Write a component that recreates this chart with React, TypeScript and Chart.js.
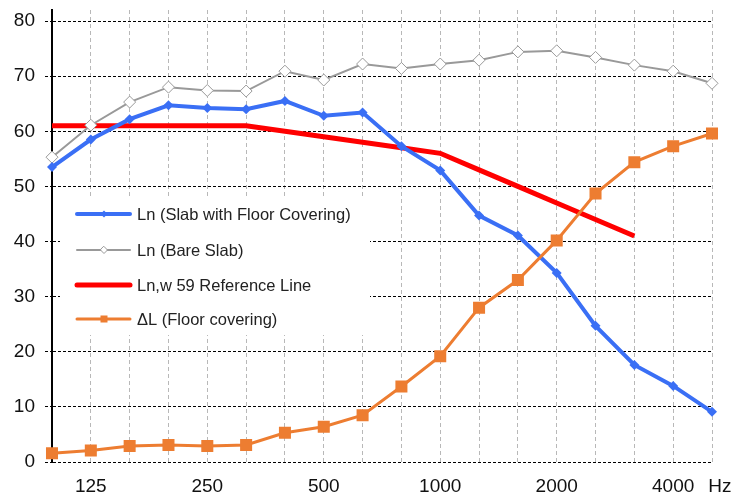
import React, { useEffect, useRef } from 'react';
import { Chart, registerables } from 'chart.js';

Chart.register(...registerables);

const frequencies = ['100', '125', '160', '200', '250', '315', '400', '500', '630', '800', '1000', '1250', '1600', '2000', '2500', '3150', '4000', '5000'];
const tickLabels = ['', '125', '', '', '250', '', '', '500', '', '', '1000', '', '', '2000', '', '', '4000', '   Hz'];
const lnFloorCovering = [53.5, 58.5, 62.2, 64.7, 64.2, 64.0, 65.5, 62.8, 63.4, 57.3, 52.9, 44.7, 41.1, 34.3, 24.7, 17.6, 13.8, 9.1];
const lnBareSlab = [55.3, 61.1, 65.3, 68.0, 67.4, 67.3, 70.9, 69.3, 72.2, 71.4, 72.2, 72.9, 74.4, 74.6, 73.4, 72.0, 70.9, 68.7];
const lnwReference: (number | null)[] = [61, 61, 61, 61, 61, 61, 60, 59, 58, 57, 56, 53, 50, 47, 44, 41, null, null];
const deltaL = [1.6, 2.1, 2.9, 3.1, 2.9, 3.1, 5.3, 6.4, 8.5, 13.7, 19.2, 28.0, 33.0, 40.2, 48.7, 54.4, 57.3, 59.6];
const yTicks = [0, 10, 20, 30, 40, 50, 60, 70, 80];

const seriesNames = ['Ln (Slab with Floor Covering)', 'Ln (Bare Slab)', 'Ln,w 59 Reference Line', '\u0394L (Floor covering)'];

const BLUE = '#3a6ff5';
const GRAY = '#999999';
const RED = '#ff0000';
const ORANGE = '#ed7d31';

const legendPlugin = {
  id: 'boxLegend',
  afterDatasetsDraw(chart: any) {
    const ctx = chart.ctx as CanvasRenderingContext2D;
    ctx.save();
    ctx.fillStyle = '#ffffff';
    ctx.fillRect(60, 196, 310, 139);
    const rows = [
      { y: 214, color: BLUE, width: 4, marker: 'diamondFill' },
      { y: 250, color: GRAY, width: 2, marker: 'diamondOpen' },
      { y: 285, color: RED, width: 5, marker: 'none' },
      { y: 319, color: ORANGE, width: 3, marker: 'square' },
    ];
    rows.forEach((r, i) => {
      ctx.beginPath();
      ctx.strokeStyle = r.color;
      ctx.lineWidth = r.width;
      ctx.lineCap = 'round';
      ctx.moveTo(77, r.y);
      ctx.lineTo(130, r.y);
      ctx.stroke();
      const cx = 104;
      if (r.marker === 'diamondFill') {
        ctx.beginPath();
        ctx.fillStyle = r.color;
        ctx.moveTo(cx, r.y - 3.5);
        ctx.lineTo(cx + 3.5, r.y);
        ctx.lineTo(cx, r.y + 3.5);
        ctx.lineTo(cx - 3.5, r.y);
        ctx.closePath();
        ctx.fill();
      } else if (r.marker === 'diamondOpen') {
        ctx.beginPath();
        ctx.fillStyle = '#ffffff';
        ctx.strokeStyle = GRAY;
        ctx.lineWidth = 1;
        ctx.moveTo(cx, r.y - 3.5);
        ctx.lineTo(cx + 3.5, r.y);
        ctx.lineTo(cx, r.y + 3.5);
        ctx.lineTo(cx - 3.5, r.y);
        ctx.closePath();
        ctx.fill();
        ctx.stroke();
      } else if (r.marker === 'square') {
        ctx.fillStyle = r.color;
        ctx.fillRect(cx - 3.5, r.y - 3.5, 7, 7);
      }
      ctx.fillStyle = '#222222';
      ctx.font = '16.5px "Liberation Sans", Arial, sans-serif';
      ctx.textAlign = 'left';
      ctx.textBaseline = 'middle';
      ctx.fillText(seriesNames[i], 137, r.y + 1);
    });
    ctx.restore();
  },
};

export default function App() {
  const canvasRef = useRef<HTMLCanvasElement | null>(null);

  useEffect(() => {
    document.body.style.margin = '0';
    const canvas = canvasRef.current;
    if (!canvas) return;
    const chart = new Chart(canvas, {
      type: 'line',
      data: {
        labels: frequencies,
        datasets: [
          {
            label: seriesNames[3],
            data: deltaL,
            borderColor: ORANGE,
            backgroundColor: ORANGE,
            borderWidth: 3,
            pointStyle: 'rect',
            pointRadius: 8.5,
            pointBorderWidth: 0,
            pointBackgroundColor: ORANGE,
            tension: 0,
            order: 1,
          },
          {
            label: seriesNames[0],
            data: lnFloorCovering,
            borderColor: BLUE,
            backgroundColor: BLUE,
            borderWidth: 4,
            pointStyle: 'rectRot',
            pointRadius: 5,
            pointBorderWidth: 0,
            pointBackgroundColor: BLUE,
            tension: 0,
            order: 2,
          },
          {
            label: seriesNames[1],
            data: lnBareSlab,
            borderColor: GRAY,
            backgroundColor: '#ffffff',
            borderWidth: 2,
            pointStyle: 'rectRot',
            pointRadius: 6,
            pointBorderWidth: 1,
            pointBorderColor: GRAY,
            pointBackgroundColor: '#ffffff',
            tension: 0,
            order: 3,
          },
          {
            label: seriesNames[2],
            data: lnwReference,
            borderColor: RED,
            backgroundColor: RED,
            borderWidth: 5,
            pointRadius: 0,
            tension: 0,
            spanGaps: false,
            order: 4,
          },
        ],
      },
      options: {
        animation: false,
        responsive: false,
        maintainAspectRatio: false,
        layout: { padding: { top: 0, right: 30, left: 0, bottom: 0 } },
        plugins: {
          legend: { display: false },
          tooltip: { enabled: false },
        },
        scales: {
          x: {
            type: 'category',
            offset: false,
            grid: {
              display: true,
              color: '#b8b8b8',
              lineWidth: 1,
              drawTicks: false,
            },
            border: { display: false, dash: [4, 3] },
            ticks: {
              autoSkip: false,
              maxRotation: 0,
              minRotation: 0,
              padding: 13,
              color: '#111111',
              font: { size: 19, family: '"Liberation Sans", Arial, sans-serif' },
              callback: (_v: any, i: number) => tickLabels[i],
            },
            afterFit: (scale: any) => {
              scale.height = 33;
              scale.paddingLeft = 0;
              scale.paddingRight = 0;
            },
          },
          y: {
            min: 0,
            max: 82,
            grid: {
              display: true,
              color: '#000000',
              lineWidth: 1,
              drawTicks: true,
              tickLength: 7,
              tickColor: '#000000',
              tickBorderDash: [3, 2],
            },
            border: { display: true, color: '#000000', width: 2, dash: [3, 2] },
            ticks: {
              stepSize: 10,
              padding: 10,
              color: '#111111',
              font: { size: 19, family: '"Liberation Sans", Arial, sans-serif' },
            },
            afterBuildTicks: (scale: any) => {
              scale.ticks = yTicks.map((v) => ({ value: v }));
            },
            afterFit: (scale: any) => {
              scale.width = 52;
              scale.paddingTop = 10;
              scale.paddingBottom = 0;
            },
          },
        },
      } as any,
      plugins: [legendPlugin],
    });
    return () => chart.destroy();
  }, []);

  return (
    <div style={{ position: 'fixed', left: 0, top: 0, width: 742, height: 495, background: '#ffffff' }}>
      <canvas ref={canvasRef} width={742} height={495} style={{ width: 742, height: 495 }} />
    </div>
  );
}
